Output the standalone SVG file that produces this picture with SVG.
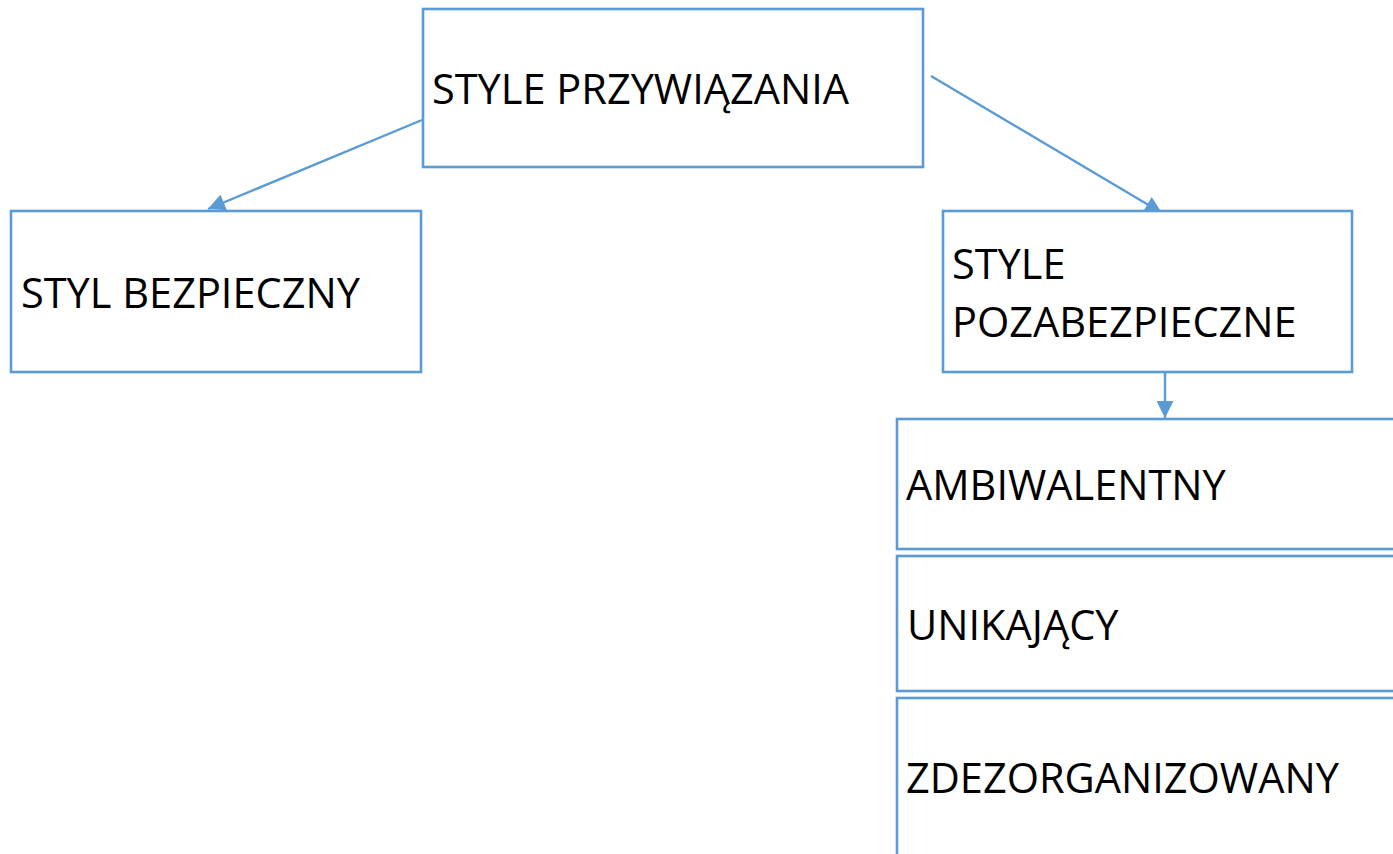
<svg xmlns="http://www.w3.org/2000/svg" width="1393" height="854" viewBox="0 0 1393 854">
<defs>
<style>
.box{fill:#fff;stroke:#5B9BD5;stroke-width:2.6}
.lbl{font-family:"Open Sans","Noto Sans","Liberation Sans",sans-serif;font-size:41.5px;fill:#000}
.con{stroke:#5B9BD5;stroke-width:2.4;fill:none}
</style>
<marker id="ah" viewBox="0 0 10 10" refX="10" refY="5" markerWidth="18" markerHeight="17" markerUnits="userSpaceOnUse" orient="auto">
<path d="M0,0 L10,5 L0,10 z" fill="#5B9BD5"/>
</marker>
</defs>
<rect width="1393" height="854" fill="#fff"/>
<g id="connectors">
<line class="con" x1="422" y1="120" x2="208" y2="209" marker-end="url(#ah)"/>
<line class="con" x1="931" y1="76" x2="1162" y2="213" marker-end="url(#ah)"/>
<line class="con" x1="1165" y1="372" x2="1165" y2="418" marker-end="url(#ah)"/>
</g>
<g id="n-root">
<rect class="box" x="423" y="9" width="500" height="158"/>
<text class="lbl" x="432" y="104">STYLE PRZYWIĄZANIA</text>
</g>
<g id="n-secure">
<rect class="box" x="11" y="211" width="410" height="161"/>
<text class="lbl" x="21" y="308">STYL BEZPIECZNY</text>
</g>
<g id="n-insecure">
<rect class="box" x="943" y="211" width="409" height="161"/>
<text class="lbl" x="952" y="279">STYLE</text>
<text class="lbl" x="952" y="337">POZABEZPIECZNE</text>
</g>
<g id="n-ambi">
<rect class="box" x="897" y="419" width="510" height="130"/>
<text class="lbl" x="906" y="500">AMBIWALENTNY</text>
</g>
<g id="n-avoid">
<rect class="box" x="897" y="556" width="510" height="135"/>
<text class="lbl" x="907" y="640">UNIKAJĄCY</text>
</g>
<g id="n-disorg">
<rect class="box" x="897" y="698" width="510" height="170"/>
<text class="lbl" x="906" y="793">ZDEZORGANIZOWANY</text>
</g>
</svg>
